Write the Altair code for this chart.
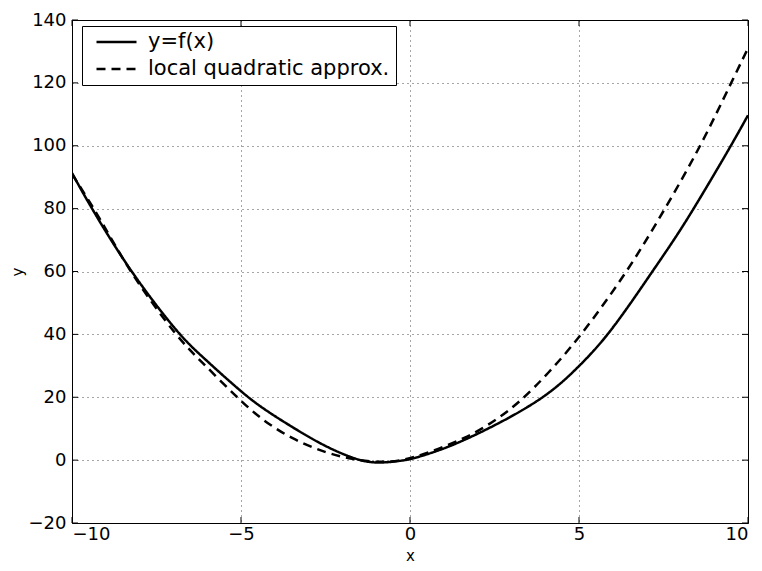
import altair as alt
import pandas as pd

# ---- data ----
x_ticks = [-10, -5, 0, 5, 10]
y_ticks = [-20, 0, 20, 40, 60, 80, 100, 120, 140]
series_names = ["y=f(x)", "local quadratic approx."]

f_x = [-10, -9.42, -8.28, -6.85, -6.21, -5.13, -4.47, -3.49, -2.5, -1.51,
       -1.02, -0.53, 0, 0.24, 1.15, 2.66, 4.08, 5, 5.9, 7.17, 7.81, 8.4, 9.5, 10]
f_y = [91.3, 80, 60, 40, 33.5, 23.0, 17.2, 10.5, 4.2, -0.2,
       -0.9, -0.6, 0.2, 1.0, 4.0, 11.7, 20.5, 29.7, 40, 60, 70, 80, 100, 109.7]

q_x = [-10, -9.17, -8.28, -6.85, -6.21, -5.13, -4.37, -3.49, -2.5, -1.72,
       -0.89, 0, 1.74, 2.66, 3.3, 4.08, 5, 6.44, 7.55, 8.61, 9.5, 10]
q_y = [91, 77, 59.5, 38.5, 31.8, 20, 12.7, 6.7, 2.3, 0.3,
       -0.9, 0, 7.2, 13.6, 19, 27.5, 38.7, 60, 80, 100, 120, 131]

df = pd.concat([
    pd.DataFrame({"x": f_x, "y": f_y, "series": series_names[0], "order": range(len(f_x))}),
    pd.DataFrame({"x": q_x, "y": q_y, "series": series_names[1], "order": range(len(q_x))}),
])

W, H = 676, 503
FONT = "DejaVu Sans"
TICK = 6

sx = alt.Scale(domain=[-10, 10], nice=False, zero=False)
sy = alt.Scale(domain=[-20, 140], nice=False, zero=False)
ax_x = alt.Axis(values=x_ticks, title="x", labelPadding=2,
                titleY=37, titleBaseline="alphabetic", titleFontSize=15)
ax_y = alt.Axis(values=y_ticks, title="y", labelPadding=6,
                titleX=-50, titleBaseline="alphabetic", titleAngle=270, titleFontSize=15)

X = alt.X("x:Q", scale=sx, axis=ax_x)
Y = alt.Y("y:Q", scale=sy, axis=ax_y)

lines = alt.Chart(df).mark_line(
    color="black", strokeWidth=2.5, interpolate="basis", clip=True
).encode(
    x=X,
    y=Y,
    strokeDash=alt.StrokeDash(
        "series:N",
        scale=alt.Scale(domain=series_names, range=[[1, 0], [9, 6]]),
        legend=alt.Legend(
            title=None, orient="none", legendX=10, legendY=6,
            padding=6, symbolOffset=7, labelOffset=10, rowPadding=6,
            clipHeight=20,
            strokeColor="black", fillColor="white",
            symbolType="stroke", symbolSize=1600, symbolStrokeWidth=2.5,
            symbolStrokeColor="black", labelFont=FONT, labelFontSize=21,
            labelColor="black", labelLimit=400,
        ),
    ),
    order="order:Q",
)

xt = pd.DataFrame({"x": x_ticks})
yt = pd.DataFrame({"y": y_ticks})

xb = alt.Chart(xt).mark_rule(color="black", strokeWidth=1).encode(
    x=X, y=alt.value(H), y2=alt.value(H - TICK))
xtop = alt.Chart(xt).mark_rule(color="black", strokeWidth=1).encode(
    x=X, y=alt.value(0), y2=alt.value(TICK))
yl = alt.Chart(yt).mark_rule(color="black", strokeWidth=1).encode(
    y=Y, x=alt.value(0), x2=alt.value(TICK))
yr = alt.Chart(yt).mark_rule(color="black", strokeWidth=1).encode(
    y=Y, x=alt.value(W), x2=alt.value(W - TICK))

chart = alt.layer(lines, xb, xtop, yl, yr).properties(
    width=W, height=H,
    autosize=alt.AutoSizeParams(type="none"),
    padding={"left": 64, "top": 12, "right": 6, "bottom": 40},
).configure_view(
    stroke="black", strokeWidth=1
).configure_axis(
    grid=True, gridColor="black", gridOpacity=0.7, gridDash=[1, 4], gridWidth=1,
    ticks=False, domain=False,
    labelFont=FONT, labelFontSize=18, labelColor="black",
    titleFont=FONT, titleFontWeight="normal", titleColor="black",
)

chart.save("out.html", embed_options={"renderer": "svg", "actions": False})
